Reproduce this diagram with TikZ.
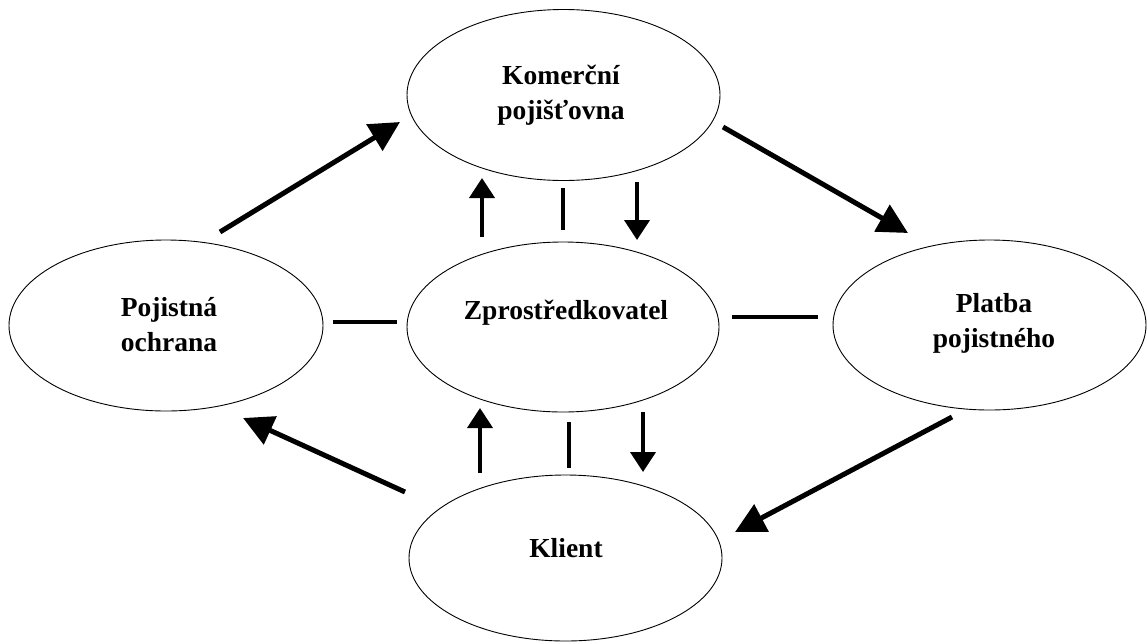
\documentclass[tikz,border=0pt]{standalone}
\usepackage{fontspec}
\setmainfont{Liberation Serif}
\usetikzlibrary{shapes.geometric,arrows.meta}
\begin{document}
\begin{tikzpicture}[x=1pt,y=-1pt,
  oval/.style={draw,ellipse,line width=0.9pt,inner sep=0pt},
  lbl/.style={font=\fontsize{27.5}{35}\selectfont\bfseries,align=center,inner sep=0pt},
  bigarrow/.style={line width=5pt,-{Triangle[length=30pt,width=30pt]}},
  smallarrow/.style={line width=4pt,-{Triangle[length=20pt,width=25pt]}},
  tie/.style={line width=4pt}]
\useasboundingbox (0,0) rectangle (1147,643);
\node[oval,minimum width=313pt,minimum height=171pt] (kom) at (563.5,95) {};
\node[oval,minimum width=314pt,minimum height=171pt] (poj) at (166,325.5) {};
\node[oval,minimum width=312pt,minimum height=170pt] (zpr) at (563,327) {};
\node[oval,minimum width=313pt,minimum height=170pt] (pla) at (989.5,325) {};
\node[oval,minimum width=313pt,minimum height=166pt] (kli) at (565.5,558) {};
\node[lbl] (tkom) at (561,95) {Komerční\\pojišťovna};
\node[lbl] (tpoj) at (169,325) {Pojistná\\ochrana};
\node[lbl] (tzpr) at (566,313) {Zprostředkovatel};
\node[lbl] (tpla) at (994,323) {Platba\\pojistného};
\node[lbl] (tkli) at (566,548) {Klient};
% big arrow endpoints
\coordinate (a1s) at (220,232); \coordinate (a1e) at (400,122);
\coordinate (a2s) at (723,127); \coordinate (a2e) at (908,233);
\coordinate (a3s) at (952,417); \coordinate (a3e) at (735,532);
\coordinate (a4s) at (405,492); \coordinate (a4e) at (243,418);
\draw[bigarrow] (a1s) -- (a1e);
\draw[bigarrow] (a2s) -- (a2e);
\draw[bigarrow] (a3s) -- (a3e);
\draw[bigarrow] (a4s) -- (a4e);
% upper small connectors
\coordinate (u1s) at (482,237); \coordinate (u1e) at (482,178);
\coordinate (u2s) at (563,188); \coordinate (u2e) at (563,230);
\coordinate (u3s) at (637,182); \coordinate (u3e) at (637,240);
\draw[smallarrow] (u1s) -- (u1e);
\draw[tie] (u2s) -- (u2e);
\draw[smallarrow] (u3s) -- (u3e);
% lower small connectors
\coordinate (l1s) at (480,473); \coordinate (l1e) at (480,408);
\coordinate (l2s) at (569,422); \coordinate (l2e) at (569,468);
\coordinate (l3s) at (643,412); \coordinate (l3e) at (643,472);
\draw[smallarrow] (l1s) -- (l1e);
\draw[tie] (l2s) -- (l2e);
\draw[smallarrow] (l3s) -- (l3e);
% horizontal ties
\coordinate (h1s) at (333,322); \coordinate (h1e) at (397,322);
\coordinate (h2s) at (732,317); \coordinate (h2e) at (818,317);
\draw[tie] (h1s) -- (h1e);
\draw[tie] (h2s) -- (h2e);
\end{tikzpicture}
\end{document}
